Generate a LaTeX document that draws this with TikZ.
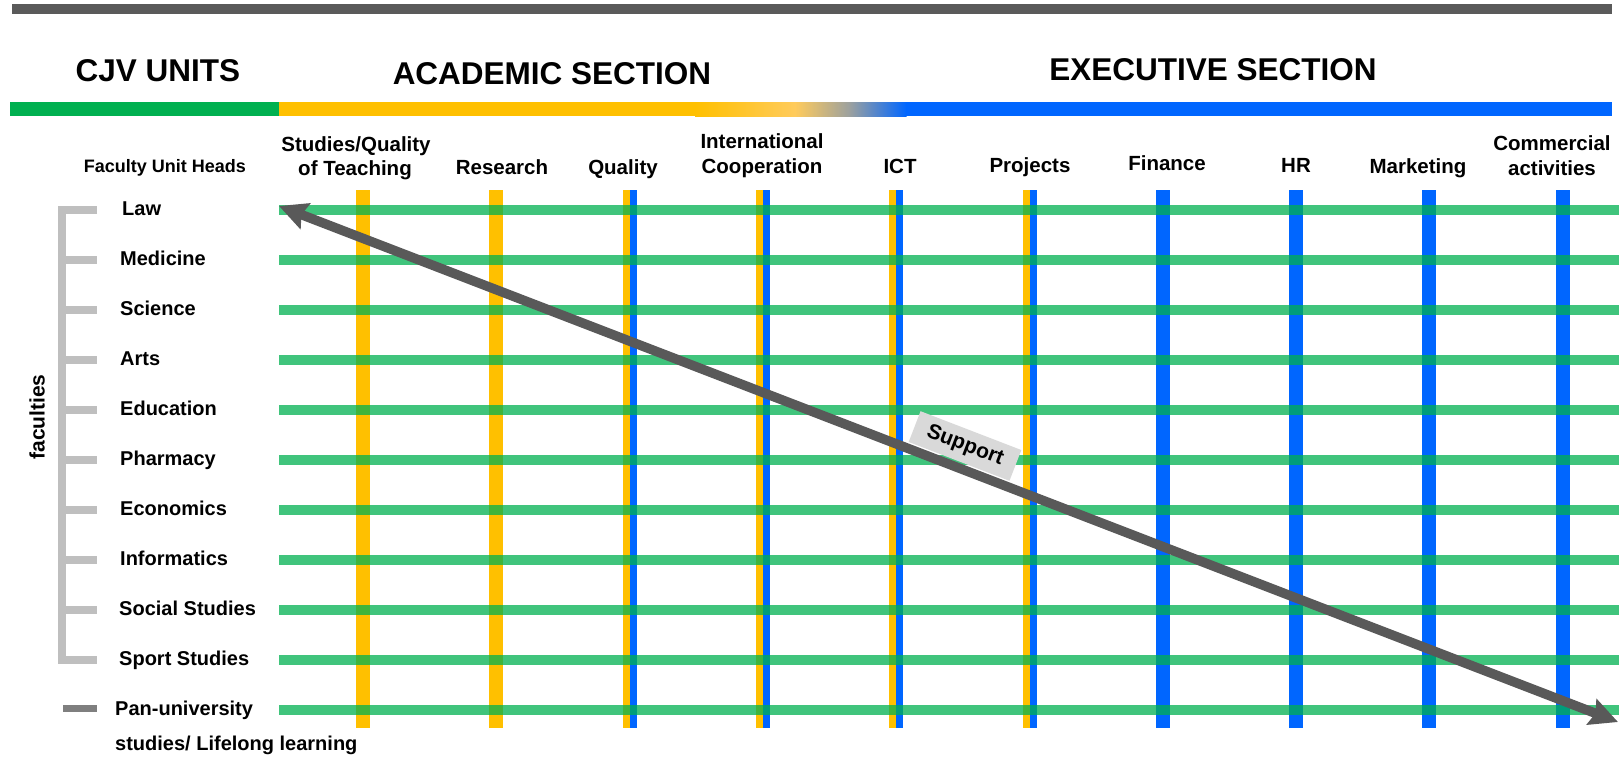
\documentclass[tikz,border=0pt]{standalone}
\usepackage{fontspec}
\setmainfont{Liberation Sans}
\usetikzlibrary{arrows.meta}
\definecolor{hdrgreen}{HTML}{00B050}
\definecolor{acyellow}{HTML}{FFC000}
\definecolor{exblue}{HTML}{0066FF}
\definecolor{rowgreen}{HTML}{00B050}
\definecolor{topgray}{HTML}{5A5A5A}
\definecolor{arrowgray}{HTML}{595959}
\definecolor{brgray}{HTML}{BFBFBF}
\definecolor{pangray}{HTML}{7F7F7F}
\definecolor{supfill}{HTML}{D9D9D9}
\definecolor{lightyel}{HTML}{FFCB5C}
\definecolor{midgray}{HTML}{9AA0A0}
\begin{document}
\begin{tikzpicture}[x=1pt,y=-1pt,
  hdr/.style={font=\fontsize{31.5}{36}\selectfont\bfseries, anchor=base, inner sep=0pt},
  collab/.style={font=\fontsize{20.5}{24}\selectfont\bfseries, anchor=base, inner sep=0pt},
  rowlab/.style={font=\fontsize{20}{24}\selectfont\bfseries, anchor=base west, inner sep=0pt},
  ybar/.style={acyellow, line width=14pt},
  bbar/.style={exblue, line width=14pt},
  yhalf/.style={acyellow, line width=7pt},
  bhalf/.style={exblue, line width=7pt},
  rowline/.style={rowgreen, opacity=0.75, line width=10pt},
  brline/.style={brgray, line width=8pt},
  suparrow/.style={arrowgray, line width=9.5pt,
    {Stealth[length=28pt,width=27pt,inset=4pt]}-{Stealth[length=28pt,width=27pt,inset=4pt]}}
]
\useasboundingbox (0,0) rectangle (1622,756);

% top rule
\fill[topgray] (12,4) rectangle (1612,14);

% section headers
\node[hdr] (cjv) at (158,81) {CJV UNITS};
\node[hdr] (acad) at (552,84) {ACADEMIC SECTION};
\node[hdr] (exec) at (1213,80) {EXECUTIVE SECTION};

% header colour bar
\fill[hdrgreen] (10,102) rectangle (279,116);
\fill[acyellow] (279,102) rectangle (695.5,116);
\shade[left color=acyellow,right color=lightyel] (695,102) rectangle (795.5,116);
\shade[left color=lightyel,right color=midgray] (795,102) rectangle (850.5,116);
\shade[left color=midgray,right color=exblue] (850,102) rectangle (906.5,116);
\fill[exblue] (906,102) rectangle (1612,116);

% column labels
\node[collab, font=\fontsize{18}{22}\selectfont\bfseries] (fuh) at (165,172) {Faculty Unit Heads};
\node[collab] (studiesA) at (356,151) {Studies/Quality};
\node[collab] (studiesB) at (355,175) {of Teaching};
\node[collab] (research) at (502,174) {Research};
\node[collab] (quality) at (623,174) {Quality};
\node[collab] (intA) at (762,148) {International};
\node[collab] (intB) at (762,173) {Cooperation};
\node[collab] (ict) at (900,173) {ICT};
\node[collab] (projects) at (1030,172) {Projects};
\node[collab] (finance) at (1167,170) {Finance};
\node[collab] (hr) at (1296,172) {HR};
\node[collab] (marketing) at (1418,173) {Marketing};
\node[collab] (commA) at (1552,150) {Commercial};
\node[collab] (commB) at (1552,175) {activities};

% vertical unit bars
\draw[ybar] (363,190) -- (363,728);
\draw[ybar] (496.3,190) -- (496.3,728);
\foreach \cx in {629.6,762.9,896.2,1029.5}{
  \draw[yhalf] (\cx-3.5,190) -- (\cx-3.5,728);
  \draw[bhalf] (\cx+3.5,190) -- (\cx+3.5,728);
}
\foreach \cx in {1162.8,1296.1,1429.4,1562.7}{
  \draw[bbar] (\cx,190) -- (\cx,728);
}

% faculty rows
\foreach \yy in {210,260,...,710}{
  \draw[rowline] (279,\yy) -- (1619,\yy);
}

% bracket
\draw[brline] (97,210) -- (62,210) -- (62,660) -- (97,660);
\foreach \yy in {260,310,...,610}{
  \draw[brline] (62,\yy) -- (97,\yy);
}
\draw[pangray, line width=7pt] (63,708) -- (97,708);

\node[rotate=90, font=\fontsize{21}{24}\selectfont\bfseries, inner sep=0pt] (faculties) at (37,417) {faculties};

% row labels
\node[rowlab] (law) at (122,215) {Law};
\node[rowlab] (medicine) at (120,265) {Medicine};
\node[rowlab] (science) at (120,315) {Science};
\node[rowlab] (arts) at (120,365) {Arts};
\node[rowlab] (education) at (120,415) {Education};
\node[rowlab] (pharmacy) at (120,465) {Pharmacy};
\node[rowlab] (economics) at (120,515) {Economics};
\node[rowlab] (informatics) at (120,565) {Informatics};
\node[rowlab] (social) at (119,615) {Social Studies};
\node[rowlab] (sport) at (119,665) {Sport Studies};
\node[rowlab] (panA) at (115,715) {Pan-university};
\node[rowlab] (panB) at (115,750) {studies/ Lifelong learning};

% support arrow
\coordinate (supA) at (279,206);
\coordinate (supB) at (1618,722);
\draw[suparrow] (supA) -- (supB);
\node[fill=supfill, rotate=-21.07, font=\fontsize{21}{24}\selectfont\bfseries,
      minimum width=108pt, minimum height=33pt, inner sep=0pt] (support) at (965,446) {Support};
\end{tikzpicture}
\end{document}
